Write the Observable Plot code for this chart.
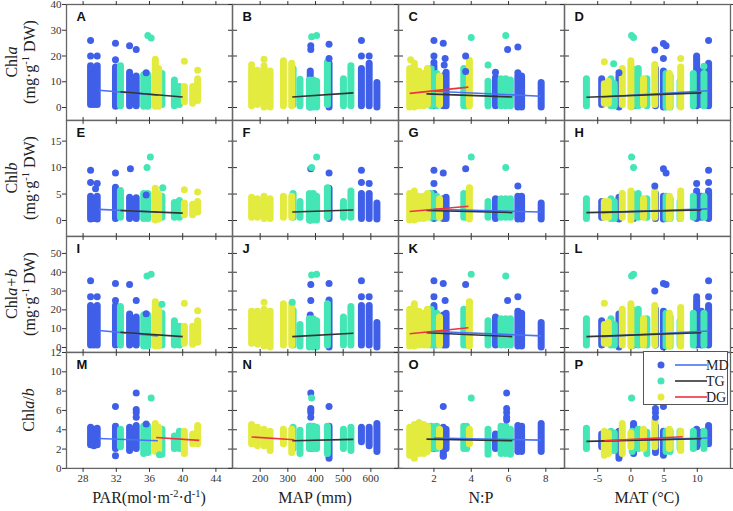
<!DOCTYPE html>
<html><head><meta charset="utf-8">
<script src="https://cdn.jsdelivr.net/npm/d3@7"></script>
<script src="https://cdn.jsdelivr.net/npm/@observablehq/plot@0.6"></script>
<style>
body{margin:0;background:#fff;}
#chart{position:relative;width:733px;height:511px;font-family:"Liberation Serif",serif;color:#222;overflow:hidden;}
.pn{position:absolute;}
.pn svg{overflow:visible;}
.ylab{position:absolute;transform:translate(-50%,-50%) rotate(-90deg);white-space:nowrap;text-align:center;font-size:16px;line-height:18px;}
.xlab{position:absolute;transform:translateX(-50%);white-space:nowrap;font-size:16px;top:489px;}
sup{font-size:0.65em;vertical-align:0;position:relative;top:-0.6em;}
#legend{position:absolute;left:643px;top:351px;width:85px;height:54px;border:1px solid #555;background:#fff;box-sizing:border-box;}
#legend svg{position:absolute;left:0;top:0;}
</style></head>
<body><div id="chart"></div>
<script>
// ---------- data ----------
const groups = ["MD", "TG", "DG"];
const dotColor = {MD: "#3f5fe8", TG: "#45e6b6", DG: "#e3ec3e"};
const lineColor = {MD: "#4a72f2", TG: "#333333", DG: "#ee3344"};
const letters = ["A","B","C","D","E","F","G","H","I","J","K","L","M","N","O","P"];
const rowKeys = ["a", "b", "ab", "r"];
const xDomains = [[26, 46], [100, 700], [0.1, 9], [-10, 15]];
const xTicks = [[28, 32, 36, 40, 44], [200, 300, 400, 500, 600], [2, 4, 6, 8], [-5, 0, 5, 10]];
const yDomains = [[-5, 40], [-3, 18.9], [-2.6, 59], [0, 12]];
const yTicks = [[0, 10, 20, 30, 40], [0, 5, 10, 15], [0, 10, 20, 30, 40, 50], [0, 2, 4, 6, 8, 10, 12]];

// site strips: [x, group, Chla lo, hi, Chlb lo, hi, Chla+b lo, hi, Chla/b lo, hi]
const parStrips = [
  [28.9,"MD",1,16, 0.2,4.5, 1,22, 2.4,4.2],
  [29.3,"MD",1,13, 0.3,4, 1,18, 2.3,4],
  [29.7,"MD",1,16, 0.2,4.5, 1,22, 2.4,4.1],
  [31.9,"MD",0.3,15.5, 0.3,6.2, 1,22, 2,4.3],
  [32.5,"TG",0.5,16, 0.5,5.6, 1,21.5, 2.2,4],
  [33.6,"MD",0.5,13.5, 0.3,4.3, 1,17.5, 1.8,4.2],
  [34.4,"MD",0.5,12, 0.3,4.2, 1,16, 2,4.4],
  [35.3,"TG",0.3,12.5, 0.3,5, 0.5,17, 1.5,4.3],
  [35.8,"TG",0.3,12.5, 0.3,5, 0.5,17, 1.6,4.3],
  [36.7,"DG",0.3,18.5, 0,6, 0.5,24, 1.7,4.6],
  [37.1,"DG",0.3,15, 0.2,5, 0.5,20, 1.8,4.2],
  [37.5,"TG",1,13, 0.5,4.5, 1,18, 1.4,4],
  [39.0,"TG",0.5,10.5, 0.5,3.3, 1,14, 2,3.3],
  [39.6,"TG",1,8, 0.5,3.7, 1,11, 2,3.8],
  [40.2,"DG",2,8, 1,3.2, 2,11, 1.5,3.8],
  [41.2,"DG",1.5,8, 1,3, 1.5,11, 2.5,3.5],
  [41.8,"DG",2.5,11, 1.5,3.5, 2.5,14, 2.5,4.4]
];
const mapStrips = [
  [169,"DG",0.5,15, 0.5,4.3, 2,19, 2.5,4.5],
  [190,"DG",1,14.3, 0.5,4, 1.5,19, 2.3,4.2],
  [214,"DG",0,16, 0.3,4.5, 0.5,20, 2.3,4],
  [236,"DG",0,14, 0.3,4, 0,19, 1.8,3.8],
  [284,"DG",0.5,17, 0.5,4.5, 1,23, 2.5,4],
  [314,"DG",0.5,17, 0.5,4.5, 1,23, 1.6,4],
  [319,"TG",1,15, 0.5,5, 1,19.5, 2,4.2],
  [344,"TG",0.5,10.8, 0.5,3.5, 0.5,12, 1.5,3.9],
  [381,"MD",0,14, 0,4.5, 1,17, 2,4.3],
  [378,"TG",0,10.5, 0,5, 0,15, 2,4.3],
  [392,"TG",0,10.5, 0,5, 0,15, 2,4.3],
  [404,"TG",0,10, 0,4.5, 0,14, 2,4.2],
  [443,"TG",1,17.5, 0.5,6, 1,23, 1.5,4.3],
  [449,"MD",0,17, 0.3,6, 0,25, 1,4.3],
  [501,"TG",0.5,11, 0.5,3.5, 1,16, 2,4],
  [528,"TG",0.5,16, 0.5,5.5, 1,21.5, 1.8,4.2],
  [566,"MD",0.5,15, 0.3,5, 1,22, 2.7,4.2],
  [594,"MD",0.5,17, 0.3,5, 1,22, 2.3,4.2],
  [622,"MD",0,9.5, 0.2,3.2, 0,13, 1.7,4.6]
];
const npStrips = [
  [0.7,"DG",0,15, 0,5, 0.5,20, 1.3,4.2],
  [0.95,"DG",0,17, 0,5.5, 0.5,23, 1,4.5],
  [1.2,"DG",0.5,14, 0.3,4.5, 1,19, 1.5,4.7],
  [1.45,"DG",0.5,13, 0.3,4.5, 1,18, 1.5,4.5],
  [1.65,"DG",1,15, 0.5,5, 1,20, 1.7,4.3],
  [1.85,"TG",0.5,15, 0.5,5, 1,20, 2,4.3],
  [2.0,"MD",0.5,16, 0.3,5, 1,22, 2,4.2],
  [2.15,"TG",0.5,13, 0.5,4.5, 1,18, 2,4.3],
  [2.3,"DG",1,12, 0.5,4, 1,16, 2.2,4],
  [2.5,"MD",0.5,12, 0.3,4, 1,17, 1.2,4.2],
  [2.65,"MD",0.5,13.5, 0.3,4.3, 1,18, 2,4],
  [3.6,"TG",0.5,15, 0.5,5, 1,20, 2,4.3],
  [3.75,"TG",0.5,13, 0.5,4.5, 1,18, 2,4.3],
  [3.9,"DG",0.5,18.2, 0.2,6, 0.5,24, 2.5,4],
  [4.9,"TG",0.5,10, 0.5,3.5, 1,14, 1.4,4],
  [5.3,"MD",0.5,11.5, 0.3,4, 1,16, 2,3.5],
  [5.6,"TG",0.5,11, 0.5,4, 1,15, 1.5,4.3],
  [5.85,"TG",0.5,11, 0.5,4, 1,15, 1.5,4.3],
  [6.1,"TG",0.5,10.5, 0.5,4, 1,15, 1.4,4],
  [6.5,"MD",0,12, 0.2,4.5, 0.5,19, 1.7,4.4],
  [6.7,"MD",0,12, 0.2,4.5, 0.5,18, 1.7,4.3],
  [7.75,"MD",0,9.5, 0.2,3.2, 0,13, 1.7,4.6]
];
const matStrips = [
  [-6.7,"TG",0.5,11, 0.3,4, 1,15, 2,4.1],
  [-4.4,"MD",1,11, 0.5,3.5, 1,14, 2.2,3.5],
  [-4.0,"DG",1.5,9, 0.5,3.5, 2,12, 1.3,3.8],
  [-3.4,"DG",1.5,10, 0.5,3.5, 2,13, 1.5,3.6],
  [-3.0,"TG",0.5,11, 0.3,4, 1,15, 1.8,3.8],
  [-2.5,"TG",0.5,9, 0.3,3.5, 1,12, 1.8,3.6],
  [-1.8,"MD",0,12, 0.2,4.3, 0,17.5, 1,3.8],
  [-1.3,"DG",1,15, 0.5,5, 1,20, 1.5,4.6],
  [0.0,"DG",0,17, 0,5.5, 0.5,23, 2.2,3.6],
  [0.2,"TG",0.5,15, 0.5,5, 1,20, 1.7,3.8],
  [0.4,"MD",0.5,12, 0.3,4, 1,16, 1.5,4.6],
  [1.1,"TG",0.5,15, 0.5,5, 1,20, 2,4],
  [1.9,"DG",1,11, 0.5,4, 1,15, 2,4],
  [2.4,"TG",0.5,11, 0.5,4, 1,15, 1.5,3.7],
  [3.6,"DG",1,16.5, 0.5,5.5, 1,22, 2.2,4.9],
  [3.7,"MD",0.5,15, 0.3,5, 1,20, 1.6,4.3],
  [4.9,"MD",0,14, 0.2,4.5, 0,19, 1.3,3.8],
  [5.3,"TG",0,13, 0.3,4.5, 0.5,18, 1.7,3.8],
  [5.8,"DG",0,13, 0.3,4.5, 0.5,18, 2,4],
  [5.9,"TG",0,12, 0.3,4, 0.5,16, 1.7,3.8],
  [7.4,"TG",0.5,10, 0.3,3.5, 1,14, 2,3.8],
  [7.5,"DG",0,15.5, 0.3,5.5, 0.5,21, 1.8,3.8],
  [9.4,"TG",0.5,13, 0.5,4.5, 1,18, 2,3.8],
  [9.9,"MD",0.5,19, 0.3,5.5, 1,25, 2.2,4],
  [10.6,"MD",1,14, 0.5,4.5, 1,19, 2.5,3.7],
  [11.0,"TG",0.5,13, 0.5,4.5, 1,18, 2,3.8],
  [11.7,"MD",0.5,17, 0.3,5.5, 1,22, 2.5,4.4]
];

// single outlying points: [row, x, group, y]
const parOut = [
  ["a",28.9,"MD",26],["a",28.9,"MD",20],["a",29.7,"MD",20],["a",31.9,"MD",25],["a",31.9,"MD",18.5],
  ["a",33.6,"MD",24],["a",34.4,"MD",22.5],["a",35.8,"TG",28],["a",36.2,"TG",27],["a",35.6,"MD",13.5],
  ["a",40.2,"DG",18],["a",41.8,"DG",14.5],
  ["b",28.9,"MD",9.5],["b",28.9,"MD",7.2],["b",29.7,"MD",7],["b",29.5,"MD",6],["b",31.9,"MD",9],
  ["b",33.7,"MD",9.8],["b",35.7,"TG",10],["b",36.1,"TG",12],["b",35.6,"MD",4.8],["b",37.6,"TG",6.2],
  ["b",40.2,"DG",5.8],["b",41.8,"DG",5.4],
  ["ab",28.9,"MD",35.5],["ab",28.9,"MD",27],["ab",29.7,"MD",27],["ab",31.9,"MD",34],["ab",31.9,"MD",25],
  ["ab",33.6,"MD",33.5],["ab",34.4,"MD",25],["ab",35.7,"TG",38],["ab",36.2,"TG",39],["ab",35.6,"MD",18],
  ["ab",37.5,"TG",23],["ab",40.2,"DG",23.5],["ab",41.8,"DG",19.5],
  ["r",31.9,"MD",6.4],["r",31.9,"MD",1.3],["r",34.4,"MD",7.8],["r",34.4,"MD",6.1],["r",34.4,"MD",5.8],
  ["r",34.4,"MD",5.3],["r",36.2,"TG",7.3],["r",35.6,"MD",4.6],["r",37.2,"TG",1.4]
];
const mapOut = [
  ["a",169,"DG",16.6],["a",214,"DG",18.7],["a",284,"DG",18.2],["a",383,"MD",24],["a",383,"MD",22.5],
  ["a",404,"TG",28],["a",386,"TG",27.5],["a",449,"MD",24.6],["a",449,"MD",19],["a",566,"MD",26],
  ["a",566,"MD",20],["a",594,"MD",20],
  ["b",383,"MD",9.8],["b",386,"TG",10],["b",404,"TG",12],["b",449,"MD",9],["b",566,"MD",9.5],
  ["b",566,"MD",7.2],["b",594,"MD",7],["b",443,"TG",6.2],
  ["ab",214,"DG",24],["ab",383,"MD",33.5],["ab",383,"MD",25],["ab",386,"TG",38.5],["ab",404,"TG",39],
  ["ab",449,"MD",34],["ab",566,"MD",35.5],["ab",566,"MD",27],["ab",594,"MD",27],["ab",316,"TG",24],
  ["r",383,"MD",7.8],["r",383,"MD",6.2],["r",383,"MD",6],["r",383,"MD",5.8],["r",383,"MD",5.3],
  ["r",386,"TG",7.3],["r",449,"MD",6.4]
];
const npOut = [
  ["a",2.0,"MD",26],["a",2.0,"MD",20],["a",2.0,"MD",17.5],["a",2.5,"MD",25],["a",2.6,"MD",19],
  ["a",2.55,"MD",16.5],["a",3.7,"MD",20],["a",3.7,"MD",14],["a",4.0,"TG",27.2],["a",4.9,"TG",16.5],
  ["a",5.3,"MD",13.7],["a",5.85,"TG",28],["a",5.95,"MD",22.5],["a",6.5,"MD",23.5],["a",6.5,"MD",13.5],
  ["a",0.75,"DG",18.5],
  ["b",2.0,"MD",9.5],["b",2.0,"MD",7],["b",2.5,"MD",9],["b",3.7,"MD",9.8],["b",4.0,"TG",12],
  ["b",5.85,"TG",10],["b",6.5,"MD",6.5],["b",3.9,"DG",6.2],
  ["ab",2.0,"MD",35.5],["ab",2.0,"MD",27],["ab",2.5,"MD",34],["ab",2.6,"MD",25],["ab",3.7,"MD",33.5],
  ["ab",4.0,"TG",39],["ab",5.85,"TG",38],["ab",5.95,"MD",25],["ab",6.5,"MD",27],["ab",3.9,"DG",24],
  ["r",2.5,"MD",6.4],["r",2.5,"MD",1.3],["r",4.0,"TG",7.3],["r",5.9,"MD",7.8],["r",5.9,"MD",6.2],
  ["r",5.9,"MD",5.8],["r",5.9,"MD",5.3],["r",5.9,"MD",5]
];
const matOut = [
  ["a",-4.0,"DG",17.8],["a",-2.6,"TG",17],["a",0.1,"TG",28],["a",0.4,"TG",27.2],["a",0.0,"DG",18.2],
  ["a",3.6,"MD",22.3],["a",4.9,"MD",24.9],["a",5.3,"MD",24],["a",4.9,"MD",19],["a",7.5,"DG",19],
  ["a",11.7,"MD",26],["a",11.0,"TG",16],["a",9.9,"MD",20],["a",-1.8,"MD",13.5],
  ["b",4.9,"MD",9.8],["b",5.3,"MD",9],["b",0.1,"TG",12],["b",0.4,"TG",10],["b",11.7,"MD",9.5],
  ["b",11.7,"MD",7.2],["b",9.9,"MD",7],["b",3.6,"MD",6.5],
  ["ab",0.1,"TG",38],["ab",0.4,"TG",39],["ab",4.9,"MD",34],["ab",5.3,"MD",33.5],["ab",3.6,"MD",30],
  ["ab",11.7,"MD",35.5],["ab",11.7,"MD",27],["ab",9.9,"MD",27],["ab",-4.0,"DG",23.5],
  ["r",0.1,"TG",7.3],["r",3.7,"MD",7.8],["r",3.7,"MD",6.2],["r",3.7,"MD",5.8],["r",3.7,"MD",5.3],
  ["r",4.9,"MD",6.4]
];

// regression lines: [col, row, group, x1, y1, x2, y2]
const fits = [
  [0,0,"MD",29.9,6.7,37,4.8],[0,0,"TG",32.5,6.1,40,4.1],
  [0,1,"MD",29.9,2.1,37,1.6],[0,1,"TG",32.5,1.9,40,1.4],
  [0,2,"MD",29.9,9.0,37,6.2],[0,2,"TG",32.5,8.1,40,5.8],
  [0,3,"MD",29.9,3.1,37,2.86],[0,3,"DG",36.8,3.2,42,2.9],
  [1,0,"TG",316,4.1,537,5.7],
  [1,1,"TG",316,1.6,537,2.0],
  [1,2,"TG",316,5.8,537,7.6],
  [1,3,"DG",169,3.25,323,2.97],[1,3,"TG",316,2.86,537,3.0],
  [2,0,"MD",2.0,6.3,7.75,4.4],[2,0,"TG",1.6,5.3,6.2,4.1],[2,0,"DG",0.7,5.5,3.85,7.9],
  [2,1,"MD",2.0,2.1,7.75,1.6],[2,1,"TG",1.6,1.9,6.2,1.5],[2,1,"DG",0.7,1.7,3.85,2.7],
  [2,2,"MD",2.0,8.5,7.75,6.2],[2,2,"TG",1.6,7.8,6.2,5.8],[2,2,"DG",0.7,7.3,3.85,10.5],
  [2,3,"MD",2.0,3.14,7.75,2.93],[2,3,"TG",1.6,3.03,6.2,2.86],
  [3,0,"MD",-4.4,4.1,11.7,6.5],[3,0,"TG",-6.7,4.0,10.6,5.7],
  [3,1,"MD",-4.4,1.5,11.7,2.2],[3,1,"TG",-6.7,1.5,10.6,2.0],
  [3,2,"MD",-4.4,5.8,11.7,8.8],[3,2,"TG",-6.7,5.8,10.6,7.8],
  [3,3,"MD",-4.4,2.86,11.7,3.14],[3,3,"TG",-6.7,2.8,10.6,3.07],[3,3,"DG",-4,2.86,7.8,3.28]
];

const yLabels = ["Chl<i>a</i><br>(mg·g<sup>-1</sup> DW)", "Chl<i>b</i><br>(mg·g<sup>-1</sup> DW)",
                 "Chl<i>a+b</i><br>(mg·g<sup>-1</sup> DW)", "Chl<i>a</i>/<i>b</i>"];
const xLabels = ["PAR(mol·m<sup>-2</sup>·d<sup>-1</sup>)", "MAP (mm)", "N:P", "MAT (°C)"];

// ---------- layout ----------
const chart = document.getElementById("chart");
const left0 = 66, top0 = 4, PW = 166, PH = 115.9;
const colStrips = [parStrips, mapStrips, npStrips, matStrips];
const colOut = [parOut, mapOut, npOut, matOut];
const blank = () => "";

for (let r = 0; r < 4; r++) {
  for (let c = 0; c < 4; c++) {
    const strips = colStrips[c].map(d => ({x: d[0], g: d[1], lo: d[2 + 2 * r], hi: d[3 + 2 * r]}));
    const outs = colOut[c].filter(d => d[0] === rowKeys[r]).map(d => ({x: d[1], g: d[2], y: d[3]}));
    const lines = fits.filter(d => d[0] === c && d[1] === r).map(d => ({g: d[2], x1: d[3], y1: d[4], x2: d[5], y2: d[6]}));
    const plot = Plot.plot({
      width: PW, height: PH, margin: 0,
      x: {domain: xDomains[c]},
      y: {domain: yDomains[r]},
      style: {background: "transparent", overflow: "visible", fontFamily: "Liberation Serif, serif", fontSize: "11px", color: "#333"},
      marks: [
        ...groups.map(g => Plot.ruleX(strips.filter(d => d.g === g), {x: "x", y1: "lo", y2: "hi", stroke: dotColor[g], strokeWidth: 7, strokeLinecap: "round"})),
        ...groups.map(g => Plot.dot(outs.filter(d => d.g === g), {x: "x", y: "y", r: 3.5, fill: dotColor[g], stroke: "none"})),
        ...groups.map(g => Plot.link(lines.filter(d => d.g === g), {x1: "x1", y1: "y1", x2: "x2", y2: "y2", stroke: lineColor[g], strokeWidth: 1.6})),
        Plot.frame({stroke: "#666", strokeWidth: 1.3}),
        Plot.axisX({anchor: "bottom", ticks: xTicks[c], tickSize: 4, tickPadding: 2, label: null, tickFormat: r === 3 ? (d => String(d)) : blank}),
        Plot.axisX({anchor: "top", ticks: xTicks[c], tickSize: 4, label: null, tickFormat: blank}),
        Plot.axisY({anchor: "left", ticks: yTicks[r], tickSize: 4, tickPadding: 1, label: null, tickFormat: c === 0 ? (d => String(d)) : blank}),
        Plot.axisY({anchor: "right", ticks: yTicks[r], tickSize: 4, label: null, tickFormat: blank}),
        Plot.text([letters[r * 4 + c]], {text: d => d, frameAnchor: "top-left", dx: 10, dy: 7, lineAnchor: "top", textAnchor: "start", fontFamily: "Liberation Sans, Arial, sans-serif", fontWeight: "bold", fontSize: 13, fill: "#111"})
      ]
    });
    const div = document.createElement("div");
    div.className = "pn";
    div.style.left = (left0 + c * PW) + "px";
    div.style.top = (top0 + r * PH) + "px";
    div.appendChild(plot);
    chart.appendChild(div);
  }
}

// y-axis titles
yLabels.forEach((t, r) => {
  const d = document.createElement("div");
  d.className = "ylab";
  d.innerHTML = t;
  d.style.left = (r === 3 ? 29 : 22) + "px";
  d.style.top = (top0 + r * PH + PH / 2) + "px";
  chart.appendChild(d);
});
// x-axis titles
xLabels.forEach((t, c) => {
  const d = document.createElement("div");
  d.className = "xlab";
  d.innerHTML = t;
  d.style.left = (left0 + c * PW + PW / 2) + "px";
  chart.appendChild(d);
});
// legend
const leg = document.createElement("div");
leg.id = "legend";
const ns = "http://www.w3.org/2000/svg";
const lsvg = document.createElementNS(ns, "svg");
lsvg.setAttribute("width", 85); lsvg.setAttribute("height", 54);
groups.forEach((g, i) => {
  const cy = 13 + i * 16;
  const circ = document.createElementNS(ns, "circle");
  circ.setAttribute("cx", 17); circ.setAttribute("cy", cy); circ.setAttribute("r", 3.5);
  circ.setAttribute("fill", dotColor[g]);
  lsvg.appendChild(circ);
  const ln = document.createElementNS(ns, "line");
  ln.setAttribute("x1", 31); ln.setAttribute("x2", 63); ln.setAttribute("y1", cy); ln.setAttribute("y2", cy);
  ln.setAttribute("stroke", lineColor[g]); ln.setAttribute("stroke-width", 1.6);
  lsvg.appendChild(ln);
  const tx = document.createElementNS(ns, "text");
  tx.setAttribute("x", 62); tx.setAttribute("y", cy + 5);
  tx.setAttribute("font-family", "Liberation Serif, serif"); tx.setAttribute("font-size", 14);
  tx.setAttribute("fill", "#222");
  tx.textContent = g;
  lsvg.appendChild(tx);
});
leg.appendChild(lsvg);
chart.appendChild(leg);
</script>
</body></html>
